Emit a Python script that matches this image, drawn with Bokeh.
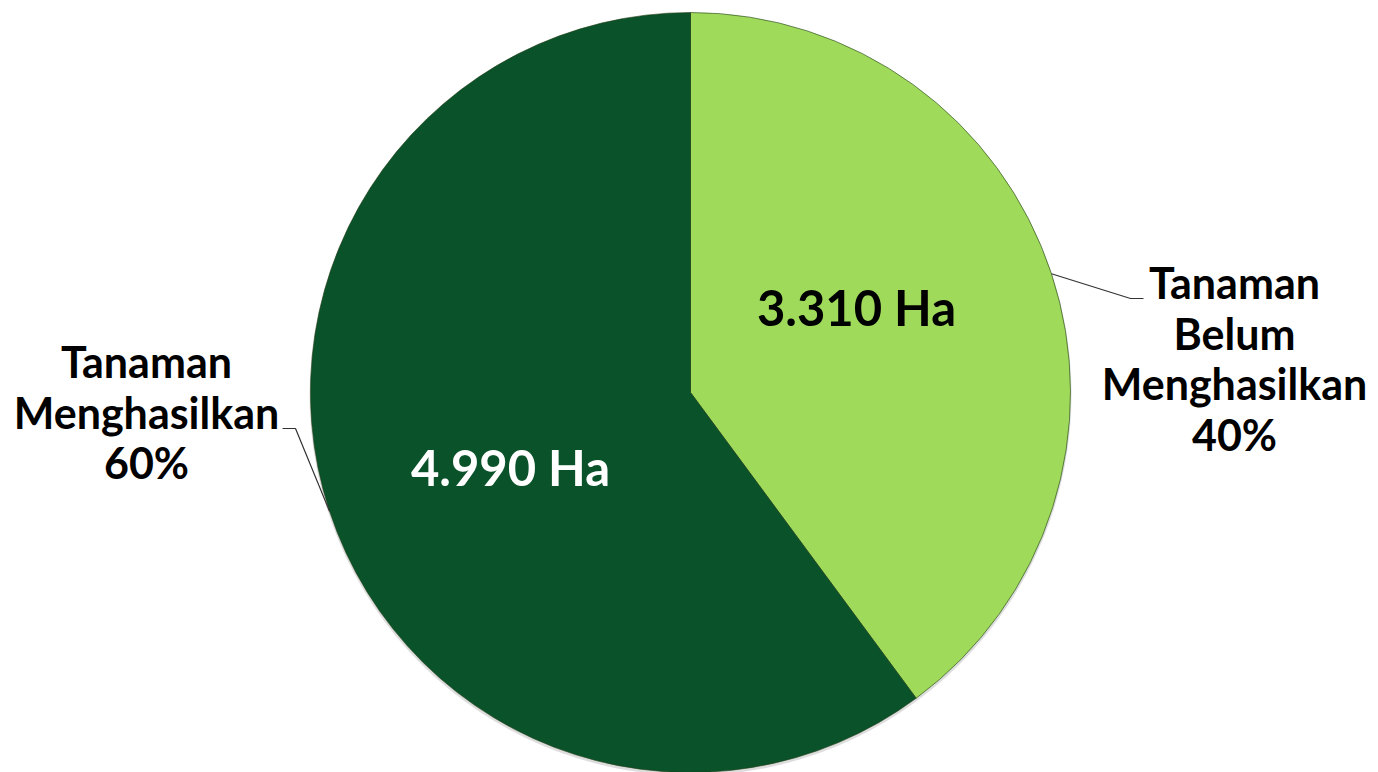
import math
from bokeh.plotting import figure
from bokeh.models import Range1d, ColumnDataSource
from bokeh.core.properties import value
from bokeh.embed import file_html
from bokeh.resources import INLINE

# ---- data ----
categories = ["Tanaman Belum Menghasilkan", "Tanaman Menghasilkan"]
label_lines = [["Tanaman", "Belum", "Menghasilkan"], ["Tanaman", "Menghasilkan"]]
values_ha = [3310, 4990]
value_labels = ["3.310 Ha", "4.990 Ha"]
colors = ["#9FDA5B", "#0A522A"]
value_text_colors = ["#000000", "#FFFFFF"]

W, H = 1378, 772
# data coordinates: x = pixel x, y = H - pixel y
p = figure(width=W, height=H, output_backend="svg", toolbar_location=None,
           x_range=Range1d(0, W), y_range=Range1d(0, H),
           min_border=0)
p.axis.visible = False
p.grid.visible = False
p.outline_line_color = None
p.background_fill_color = "white"


def Y(py):
    return H - py


cx, cy, R = 690, Y(392), 380
total = sum(values_ha)
fracs = [v / total for v in values_ha]

# clockwise from 12 o'clock
starts, ends, mids = [], [], []
a = math.pi / 2
for f in fracs:
    a2 = a - f * 2 * math.pi
    starts.append(a2)
    ends.append(a)
    mids.append((a + a2) / 2)
    a = a2

src = ColumnDataSource(dict(x=[cx] * 2, y=[cy] * 2, start=starts, end=ends, color=colors))
# soft shadow ring
p.wedge(x=cx, y=cy - 2, radius=R + 1, start_angle=0, end_angle=2 * math.pi,
        fill_color="#bbbbbb", fill_alpha=0.5, line_color=None)
p.wedge(x="x", y="y", radius=R, start_angle="start", end_angle="end",
        fill_color="color", line_color="#1f3d14", line_width=1, line_alpha=0.6,
        source=src)

font = value("Lato")
BASE_FIX = 0.37  # em shift to compensate baseline placement


def put(xs, baselines, texts, color, size):
    ys = [Y(b) + BASE_FIX * size for b in baselines]
    p.text(x=xs, y=ys, text=texts, text_color=color, text_font=font,
           text_font_style="bold", text_font_size=f"{size}px",
           text_align="center", text_baseline="alphabetic")


# value labels inside slices
val_pos = [(856, 325), (510, 485)]
for (x, b), t, c in zip(val_pos, value_labels, value_text_colors):
    put([x], [b], [t], c, 49)

# category labels with percentages
pcts = [f"{round(f * 100)}%" for f in fracs]
cat_pos = [(1234, 298), (146, 377)]
line_h = 50.5
for (x, b0), lines, pct in zip(cat_pos, label_lines, pcts):
    all_lines = lines + [pct]
    bs = [b0 + i * line_h for i in range(len(all_lines))]
    put([x] * len(all_lines), bs, all_lines, "#000000", 43)

# leader lines from slice edge at mid-angle
m0 = mids[0]
ex, ey = cx + R * math.cos(m0), cy + R * math.sin(m0)
p.line(x=[ex, 1130, 1143], y=[ey, Y(298), Y(298)], line_color="#333333", line_width=1.2)
m1 = mids[1]
ex, ey = cx + R * math.cos(m1), cy + R * math.sin(m1)
p.line(x=[ex, 295, 282], y=[ey, Y(428), Y(428)], line_color="#333333", line_width=1.2)

open("out.html", "w").write(file_html(p, INLINE))
